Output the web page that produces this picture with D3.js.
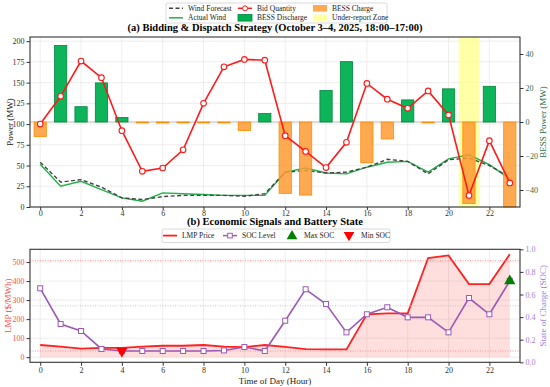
<!DOCTYPE html>
<html>
<head>
<meta charset="utf-8">
<script src="https://cdn.jsdelivr.net/npm/d3@7"></script>
<style>
  body { margin: 0; background: #fff; }
  text { font-family: "Liberation Serif", "Times New Roman", serif; }
</style>
</head>
<body>
<svg id="chart" width="550" height="387"></svg>
<script>
// Data
const hours = [0, 1, 2, 3, 4, 5, 6, 7, 8, 9, 10, 11, 12, 13, 14, 15, 16, 17, 18, 19, 20, 21, 22, 23];
const windForecast = [54, 30, 33, 24, 11, 9, 12.5, 14, 14, 14, 13, 16, 42, 44, 41, 42, 48, 57.5, 55, 40, 57, 59, 50, 36];
const actualWind = [51.5, 25, 31, 21, 11, 7, 17, 16, 15, 14, 14, 14, 42, 47, 41, 40, 48, 54, 55, 42, 58, 63, 51, 34];
const bidQuantity = [100, 133.5, 176, 156, 92, 43, 47, 69, 125, 169, 178, 177, 86, 67, 47.5, 78, 149, 130, 119, 140, 111, 14, 80, 29];
const bessPower = [-8.5, 45, 9, 23, 2.7, -0.5, -0.5, -0.5, -0.5, -0.5, -5, 5, -42, -43, 18.5, 35.5, -24, -10, 13, -0.5, 19.5, -48, 21, -50];
const lmpPrice = [64, 55, 45, 49, 49, 55, 60, 60, 64, 55, 53, 64, 54, 42, 41, 41, 225, 230, 230, 521, 535, 384, 384, 541];
const socLevel = [0.655, 0.339, 0.277, 0.118, 0.1, 0.1, 0.1, 0.1, 0.1, 0.105, 0.135, 0.1, 0.368, 0.646, 0.516, 0.265, 0.425, 0.487, 0.398, 0.398, 0.265, 0.569, 0.425, 0.72];
const underReportHours = [21];

const xTicks = [0, 2, 4, 6, 8, 10, 12, 14, 16, 18, 20, 22];
const powerTicks = [0, 25, 50, 75, 100, 125, 150, 175, 200];
const bessTicks = [-40, -20, 0, 20, 40];
const lmpTicks = [0, 100, 200, 300, 400, 500];
const socTicks = [0, 0.2, 0.4, 0.6, 0.8, 1.0];

const colors = {
  forecast: '#444444',
  actual: '#22b14c',
  bid: '#ff1a1a',
  discharge: '#00b050',
  dischargeEdge: '#00873c',
  charge: '#ff9a33',
  chargeEdge: '#ff8c00',
  zone: '#ffff88',
  lmp: '#ff2020',
  soc: '#9b59b6',
  axisGreen: '#2e6b45',
  axisRed: '#ff4d4d',
  axisPurple: '#a37fd6'
};

const svg = d3.select('#chart');
const left = 30, right = 520;
const topA = 37, bottomA = 207;
const topB = 249.3, bottomB = 362.3;

const x = d3.scaleLinear().domain([-0.5, 23.5]).range([left, right]);
const yPower = d3.scaleLinear().domain([0, 205]).range([bottomA, topA]);
const yBess = d3.scaleLinear().domain([-50, 50]).range([bottomA, topA]);
const yLmp = d3.scaleLinear().domain([-27, 567]).range([bottomB, topB]);
const ySoc = d3.scaleLinear().domain([0, 1]).range([bottomB, topB]);

function grid(g, xs, ys, yScale, top, bottom) {
  g.selectAll('.gx').data(xs).join('line')
    .attr('x1', d => x(d)).attr('x2', d => x(d))
    .attr('y1', top).attr('y2', bottom)
    .attr('stroke', '#e6e6e6').attr('stroke-width', 0.7);
  g.selectAll('.gy').data(ys).join('line')
    .attr('x1', left).attr('x2', right)
    .attr('y1', d => yScale(d)).attr('y2', d => yScale(d))
    .attr('stroke', '#e6e6e6').attr('stroke-width', 0.7);
}

function styleAxis(g, color) {
  g.select('.domain').remove();
  g.selectAll('.tick line').attr('stroke', '#333');
  g.selectAll('.tick text')
    .attr('fill', color)
    .style('font-family', '"Liberation Serif", serif')
    .style('font-size', '8px');
}

// ---------- Panel (a) ----------
const ga = svg.append('g');
grid(ga.append('g'), xTicks, powerTicks, yPower, topA, bottomA);

// under-report zone
ga.selectAll('.zone').data(underReportHours).join('rect')
  .attr('x', d => x(d - 0.5)).attr('width', x(1) - x(0))
  .attr('y', topA).attr('height', bottomA - topA)
  .attr('fill', colors.zone).attr('opacity', 0.75);

// wind lines
const windLine = vals => d3.line().x((d, i) => x(hours[i])).y(d => yPower(d))(vals);
ga.append('path').attr('d', windLine(actualWind))
  .attr('fill', 'none').attr('stroke', colors.actual).attr('stroke-width', 1.4);
ga.append('path').attr('d', windLine(windForecast))
  .attr('fill', 'none').attr('stroke', colors.forecast).attr('stroke-width', 1.4)
  .attr('stroke-dasharray', '4,2.5');

// zero line of the BESS axis
ga.append('line').attr('x1', left).attr('x2', right)
  .attr('y1', yBess(0)).attr('y2', yBess(0))
  .attr('stroke', '#bbbbbb').attr('stroke-width', 1);

// BESS bars
const barW = x(0.6) - x(0);
ga.selectAll('.bar').data(bessPower).join('rect')
  .attr('x', (d, i) => x(hours[i]) - barW / 2)
  .attr('width', barW)
  .attr('y', d => yBess(Math.max(0, d)))
  .attr('height', d => Math.abs(yBess(d) - yBess(0)))
  .attr('fill', d => d >= 0 ? colors.discharge : colors.charge)
  .attr('fill-opacity', d => d >= 0 ? 0.95 : 0.85)
  .attr('stroke', d => d >= 0 ? colors.dischargeEdge : colors.chargeEdge)
  .attr('stroke-width', 0.8);

// bid quantity
ga.append('path')
  .attr('d', d3.line().x((d, i) => x(hours[i])).y(d => yPower(d))(bidQuantity))
  .attr('fill', 'none').attr('stroke', colors.bid).attr('stroke-width', 1.6);
ga.selectAll('.bid').data(bidQuantity).join('circle')
  .attr('cx', (d, i) => x(hours[i])).attr('cy', d => yPower(d)).attr('r', 2.8)
  .attr('fill', '#fff').attr('stroke', colors.bid).attr('stroke-width', 1.1);

ga.append('rect').attr('x', left).attr('y', topA)
  .attr('width', right - left).attr('height', bottomA - topA)
  .attr('fill', 'none').attr('stroke', '#333').attr('stroke-width', 1.1);

styleAxis(ga.append('g').attr('transform', `translate(${left},0)`)
  .call(d3.axisLeft(yPower).tickValues(powerTicks).tickSize(3.5).tickPadding(2)), '#333');
styleAxis(ga.append('g').attr('transform', `translate(${right},0)`)
  .call(d3.axisRight(yBess).tickValues(bessTicks).tickSize(3.5).tickPadding(2)), colors.axisGreen);
styleAxis(ga.append('g').attr('transform', `translate(0,${bottomA})`)
  .call(d3.axisBottom(x).tickValues(xTicks).tickSize(3).tickPadding(0.5)), '#333');

svg.append('text').attr('transform', `translate(13,${(topA + bottomA) / 2}) rotate(-90)`)
  .attr('text-anchor', 'middle').style('font-size', '9px').attr('fill', '#222')
  .text('Power (MW)');
svg.append('text').attr('transform', `translate(546,${(topA + bottomA) / 2}) rotate(-90)`)
  .attr('text-anchor', 'middle').style('font-size', '9px').attr('fill', colors.axisGreen)
  .text('BESS Power (MW)');

svg.append('text').attr('x', 275).attr('y', 31).attr('text-anchor', 'middle')
  .style('font-size', '10.5px').style('font-weight', 'bold')
  .text('(a) Bidding & Dispatch Strategy (October 3\u20134, 2025, 18:00\u201317:00)');

// ---------- Panel (b) ----------
const gb = svg.append('g');
grid(gb.append('g'), xTicks, lmpTicks, yLmp, topB, bottomB);

gb.append('path')
  .attr('d', d3.area().x((d, i) => x(hours[i])).y0(yLmp(0)).y1(d => yLmp(d))(lmpPrice))
  .attr('fill', colors.lmp).attr('fill-opacity', 0.15);
gb.append('path')
  .attr('d', d3.line().x((d, i) => x(hours[i])).y(d => yLmp(d))(lmpPrice))
  .attr('fill', 'none').attr('stroke', colors.lmp).attr('stroke-width', 1.8);

// SOC reference lines
[[0.9, '#ff8080'], [0.5, '#bbbbbb'], [0.1, '#ff8080']].forEach(([v, c]) => {
  gb.append('line').attr('x1', left).attr('x2', right)
    .attr('y1', ySoc(v)).attr('y2', ySoc(v))
    .attr('stroke', c).attr('stroke-width', 0.8).attr('stroke-dasharray', '1,1.5');
});

gb.append('path')
  .attr('d', d3.line().x((d, i) => x(hours[i])).y(d => ySoc(d))(socLevel))
  .attr('fill', 'none').attr('stroke', colors.soc).attr('stroke-width', 1.6);
gb.selectAll('.soc').data(socLevel).join('rect')
  .attr('x', (d, i) => x(hours[i]) - 2.5).attr('y', d => ySoc(d) - 2.5)
  .attr('width', 5).attr('height', 5)
  .attr('fill', '#fff').attr('stroke', colors.soc).attr('stroke-width', 1);

const iMax = d3.maxIndex(socLevel), iMin = d3.minIndex(socLevel);
const tri = d3.symbol().type(d3.symbolTriangle).size(55);
gb.append('path').attr('d', tri())
  .attr('transform', `translate(${x(hours[iMax])},${ySoc(socLevel[iMax])})`)
  .attr('fill', '#008000');
gb.append('path').attr('d', tri())
  .attr('transform', `translate(${x(hours[iMin])},${ySoc(socLevel[iMin])}) rotate(180)`)
  .attr('fill', '#ff0000');

gb.append('rect').attr('x', left).attr('y', topB)
  .attr('width', right - left).attr('height', bottomB - topB)
  .attr('fill', 'none').attr('stroke', '#333').attr('stroke-width', 1.1);

styleAxis(gb.append('g').attr('transform', `translate(${left},0)`)
  .call(d3.axisLeft(yLmp).tickValues(lmpTicks).tickSize(3.5).tickPadding(2)), colors.axisRed);
styleAxis(gb.append('g').attr('transform', `translate(${right},0)`)
  .call(d3.axisRight(ySoc).tickValues(socTicks).tickFormat(d3.format('.1f')).tickSize(3.5).tickPadding(2)), colors.axisPurple);
styleAxis(gb.append('g').attr('transform', `translate(0,${bottomB})`)
  .call(d3.axisBottom(x).tickValues(xTicks).tickSize(3.5).tickPadding(2)), '#333');

svg.append('text').attr('transform', `translate(11,${(topB + bottomB) / 2}) rotate(-90)`)
  .attr('text-anchor', 'middle').style('font-size', '9px').attr('fill', colors.axisRed)
  .text('LMP ($/MWh)');
svg.append('text').attr('transform', `translate(546,${(topB + bottomB) / 2}) rotate(-90)`)
  .attr('text-anchor', 'middle').style('font-size', '9px').attr('fill', colors.axisPurple)
  .text('State of Charge (SOC)');
svg.append('text').attr('x', 275).attr('y', 384).attr('text-anchor', 'middle')
  .style('font-size', '9px').attr('fill', '#222').text('Time of Day (Hour)');

svg.append('text').attr('x', 275).attr('y', 225).attr('text-anchor', 'middle')
  .style('font-size', '10.5px').style('font-weight', 'bold')
  .text('(b) Economic Signals and Battery State');

// ---------- Legends ----------
function drawHandle(g, kind, cx, cy) {
  if (kind.type === 'line') {
    g.append('line').attr('x1', cx - 7).attr('x2', cx + 7).attr('y1', cy).attr('y2', cy)
      .attr('stroke', kind.color).attr('stroke-width', kind.width || 1.5)
      .attr('stroke-dasharray', kind.dash || null);
    if (kind.marker === 'circle') {
      g.append('circle').attr('cx', cx).attr('cy', cy).attr('r', 2.5)
        .attr('fill', '#fff').attr('stroke', kind.color).attr('stroke-width', 1);
    } else if (kind.marker === 'square') {
      g.append('rect').attr('x', cx - 2.3).attr('y', cy - 2.3).attr('width', 4.6).attr('height', 4.6)
        .attr('fill', '#fff').attr('stroke', kind.color).attr('stroke-width', 1);
    }
  } else if (kind.type === 'rect') {
    g.append('rect').attr('x', cx - 7).attr('y', cy - 3.3).attr('width', 14).attr('height', 6.6)
      .attr('fill', kind.color).attr('fill-opacity', kind.opacity || 1)
      .attr('stroke', kind.edge || 'none').attr('stroke-width', 0.8);
  } else if (kind.type === 'tri') {
    g.append('path').attr('d', d3.symbol().type(d3.symbolTriangle).size(50)())
      .attr('transform', `translate(${cx},${cy + (kind.down ? -0.5 : 0.5)}) rotate(${kind.down ? 180 : 0})`)
      .attr('fill', kind.color);
  }
}

const legendA = [
  { label: 'Wind Forecast', type: 'line', color: colors.forecast, dash: '4,2.5', col: 0, row: 0 },
  { label: 'Actual Wind', type: 'line', color: colors.actual, col: 0, row: 1 },
  { label: 'Bid Quantity', type: 'line', color: colors.bid, marker: 'circle', col: 1, row: 0 },
  { label: 'BESS Discharge', type: 'rect', color: colors.discharge, edge: colors.dischargeEdge, col: 1, row: 1 },
  { label: 'BESS Charge', type: 'rect', color: colors.charge, opacity: 0.85, col: 2, row: 0 },
  { label: 'Under-report Zone', type: 'rect', color: colors.zone, opacity: 0.75, col: 2, row: 1 }
];
const colXA = [176, 245, 320];
const la = svg.append('g');
la.append('rect').attr('x', 166).attr('y', 3).attr('width', 221).attr('height', 20)
  .attr('rx', 2).attr('fill', '#fff').attr('fill-opacity', 0.9).attr('stroke', '#d0d0d0').attr('stroke-width', 0.8);
legendA.forEach(d => {
  const cx = colXA[d.col], cy = 8.3 + d.row * 9.5;
  drawHandle(la, d, cx, cy);
  la.append('text').attr('x', cx + 12).attr('y', cy + 2.6)
    .style('font-size', '7.5px').attr('fill', '#222').text(d.label);
});

const legendB = [
  { label: 'LMP Price', type: 'line', color: colors.lmp, width: 1.8, x: 170 },
  { label: 'SOC Level', type: 'line', color: colors.soc, marker: 'square', x: 230 },
  { label: 'Max SOC', type: 'tri', color: '#008000', x: 292 },
  { label: 'Min SOC', type: 'tri', color: '#ff0000', down: true, x: 349 }
];
const lb = svg.append('g');
lb.append('rect').attr('x', 162).attr('y', 229).attr('width', 228).attr('height', 13.5)
  .attr('rx', 2).attr('fill', '#fff').attr('fill-opacity', 0.9).attr('stroke', '#d0d0d0').attr('stroke-width', 0.8);
legendB.forEach(d => {
  const cy = 235.6;
  drawHandle(lb, d, d.x, cy);
  lb.append('text').attr('x', d.x + 12).attr('y', cy + 2.6)
    .style('font-size', '7.5px').attr('fill', '#222').text(d.label);
});
</script>
</body>
</html>
